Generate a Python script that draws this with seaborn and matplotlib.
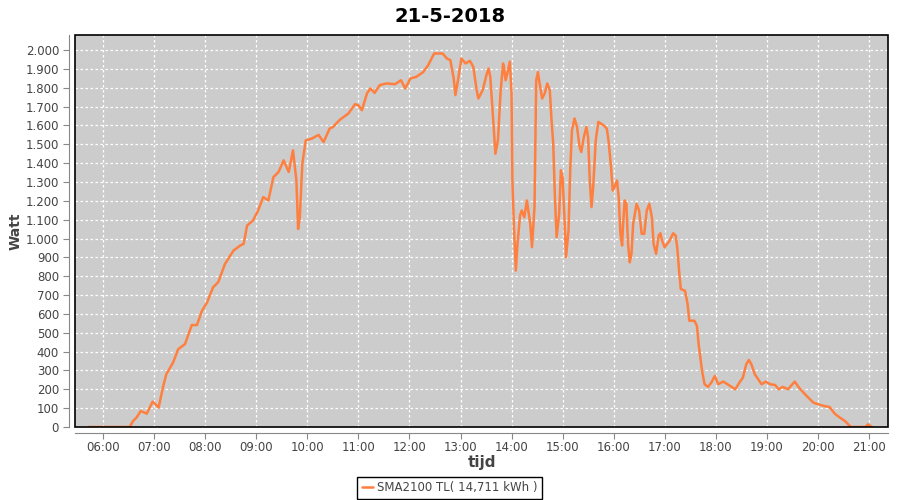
import pandas as pd
import seaborn as sns
import matplotlib.pyplot as plt
import matplotlib.dates as mdates
from matplotlib.patches import Rectangle
from matplotlib.ticker import FuncFormatter, MultipleLocator

# Readings of the day (time of day, power in Watt)
times = [
    '05:43', '06:31', '06:35', '06:39', '06:44', '06:51', '06:58', '07:05', '07:10', '07:14',
    '07:22', '07:28', '07:36', '07:44', '07:50', '07:56', '08:02', '08:09', '08:15', '08:23',
    '08:33', '08:41', '08:45', '08:49', '08:56', '09:02', '09:08', '09:14', '09:20', '09:26',
    '09:32', '09:38', '09:43', '09:47', '09:49', '09:51', '09:54', '09:58', '10:05', '10:13',
    '10:19', '10:26', '10:30', '10:38', '10:48', '10:56', '11:00', '11:04', '11:10', '11:14',
    '11:19', '11:25', '11:33', '11:43', '11:50', '11:55', '12:01', '12:08', '12:16', '12:22',
    '12:29', '12:39', '12:44', '12:48', '12:52', '12:54', '12:57', '13:01', '13:06', '13:11',
    '13:15', '13:19', '13:21', '13:26', '13:31', '13:33', '13:35', '13:39', '13:41', '13:44',
    '13:47', '13:50', '13:51', '13:53', '13:55', '13:58', '14:00', '14:01', '14:03', '14:05',
    '14:07', '14:10', '14:12', '14:15', '14:18', '14:22', '14:24', '14:27', '14:29', '14:31',
    '14:33', '14:36', '14:39', '14:42', '14:45', '14:47', '14:49', '14:51', '14:53', '14:56',
    '14:58', '15:00', '15:02', '15:04', '15:07', '15:09', '15:11', '15:14', '15:17', '15:20',
    '15:22', '15:25', '15:28', '15:30', '15:32', '15:34', '15:36', '15:39', '15:42', '15:49',
    '15:52', '15:54', '15:57', '15:59', '16:01', '16:04', '16:06', '16:08', '16:10', '16:11',
    '16:13', '16:15', '16:17', '16:19', '16:21', '16:23', '16:27', '16:30', '16:33', '16:36',
    '16:39', '16:42', '16:45', '16:47', '16:50', '16:53', '16:55', '16:57', '17:00', '17:06',
    '17:10', '17:13', '17:15', '17:17', '17:19', '17:24', '17:27', '17:29', '17:35', '17:38',
    '17:40', '17:44', '17:47', '17:51', '17:55', '17:59', '18:03', '18:09', '18:17', '18:23',
    '18:28', '18:32', '18:36', '18:39', '18:42', '18:46', '18:54', '18:59', '19:04', '19:10',
    '19:14', '19:19', '19:25', '19:33', '19:38', '19:45', '19:55', '20:01', '20:07', '20:14',
    '20:20', '20:26', '20:32', '20:39', '20:56', '20:59', '21:04',
]
watt = [
    0, 0, 32, 50, 85, 71, 135, 103, 209, 280,
    342, 413, 440, 541, 541, 617, 661, 741, 768, 865,
    936, 963, 972, 1069, 1096, 1149, 1220, 1202, 1326, 1353,
    1415, 1353, 1468, 1308, 1051, 1113, 1397, 1521, 1530, 1550,
    1512, 1583, 1592, 1630, 1663, 1713, 1707, 1681, 1770, 1796,
    1773, 1814, 1823, 1819, 1840, 1796, 1849, 1858, 1883, 1920,
    1982, 1982, 1955, 1947, 1849, 1761, 1840, 1955, 1929, 1943,
    1911, 1787, 1743, 1787, 1876, 1902, 1858, 1592, 1450, 1521,
    1770, 1929, 1911, 1840, 1876, 1939, 1770, 1308, 1043, 830,
    972, 1122, 1149, 1113, 1202, 1078, 954, 1167, 1840, 1883,
    1823, 1743, 1770, 1823, 1787, 1628, 1504, 1220, 1007, 1131,
    1362, 1326, 1131, 901, 1043, 1362, 1574, 1637, 1592, 1486,
    1459, 1539, 1592, 1539, 1308, 1167, 1273, 1521, 1619, 1598,
    1583, 1521, 1379, 1255, 1273, 1308, 1220, 1025, 963, 1060,
    1202, 1184, 972, 874, 919, 1078, 1184, 1149, 1025, 1025,
    1149, 1184, 1113, 972, 919, 1016, 1028, 989, 954, 989,
    1028, 1016, 945, 830, 732, 723, 653, 564, 564, 537,
    440, 298, 227, 213, 236, 271, 227, 241, 218, 200,
    236, 262, 333, 356, 333, 280, 227, 241, 227, 223,
    200, 213, 200, 241, 209, 174, 129, 120, 112, 106,
    71, 50, 32, 0, 0, 14, 0,
]
day = '2018-05-21'
title = '21-5-2018'
series_label = 'SMA2100 TL( 14,711 kWh )'

df = pd.DataFrame({'tijd': pd.to_datetime([day + ' ' + t for t in times]), 'Watt': watt})

sns.set_style('whitegrid', {
    'axes.facecolor': '#cccccc',
    'grid.color': 'white',
    'grid.linestyle': (0, (2, 2)),
    'axes.edgecolor': '#888888',
})
plt.rcParams['font.family'] = ['DejaVu Sans']

fig = plt.figure(figsize=(9, 5), dpi=100)
ax = fig.add_axes([75 / 900, 1 - 427 / 500, 813 / 900, 392 / 500])

sns.lineplot(data=df, x='tijd', y='Watt', ax=ax, color='#ff7f3f', linewidth=1.8,
             label=series_label, legend=False)

ax.set_xlim(pd.Timestamp(day + ' 05:26:40'), pd.Timestamp(day + ' 21:22:40'))
ax.set_ylim(0, 2080)
ax.xaxis.set_major_locator(mdates.HourLocator(byhour=range(6, 22)))
ax.xaxis.set_major_formatter(mdates.DateFormatter('%H:%M'))
ax.yaxis.set_major_locator(MultipleLocator(100))
ax.yaxis.set_major_formatter(FuncFormatter(lambda v, p: f'{int(v):,}'.replace(',', '.')))
ax.grid(True, linewidth=0.9)

# axis lines a few pixels away from the plot frame
for side in ['top', 'right']:
    ax.spines[side].set_visible(False)
for side in ['left', 'bottom']:
    ax.spines[side].set_position(('outward', 4))
    ax.spines[side].set_color('#888888')
ax.add_patch(Rectangle((0, 0), 1, 1, transform=ax.transAxes, fill=False,
                       edgecolor='black', linewidth=1.2, clip_on=False, zorder=5))

ax.tick_params(axis='both', direction='out', length=4, width=0.8, color='#888888',
               labelsize=8.5, labelcolor='#444444', left=True, bottom=True)
ax.tick_params(axis='x', pad=2)
ax.set_xlabel('tijd', fontsize=11, fontweight='bold', color='#444444', labelpad=1)
ax.set_ylabel('Watt', fontsize=10, fontweight='bold', color='#444444', labelpad=2)
fig.suptitle(title, fontsize=14, fontweight='bold', color='black', y=0.985)

leg = fig.legend(loc='center', bbox_to_anchor=(449.5 / 900, 1 - 488 / 500), frameon=True,
                 fancybox=False, facecolor='white', framealpha=1, edgecolor='black',
                 fontsize=8.5, handlelength=1.0, handletextpad=0.3, borderpad=0.35,
                 borderaxespad=0)
leg.get_frame().set_linewidth(1.0)
for t in leg.get_texts():
    t.set_color('#444444')

plt.savefig('out.png', dpi=100, facecolor='white')
